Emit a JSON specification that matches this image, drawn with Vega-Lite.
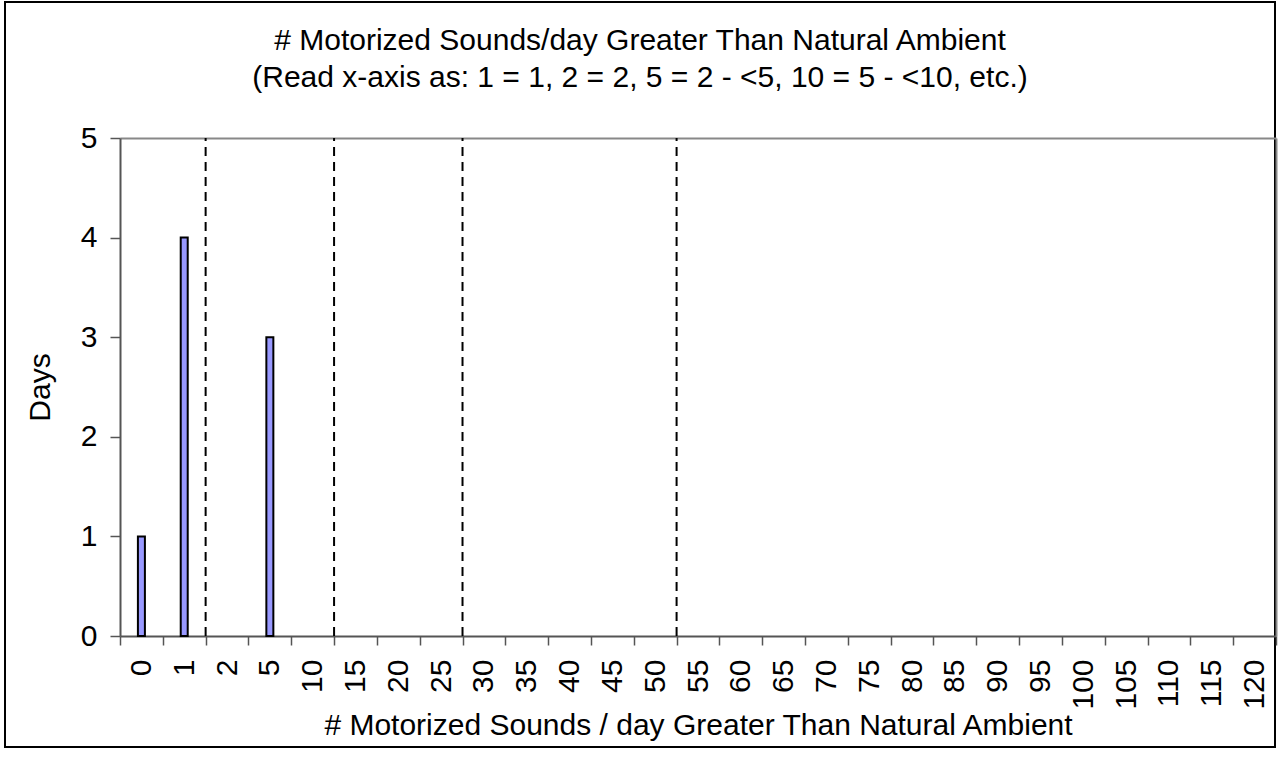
{
  "$schema": "https://vega.github.io/schema/vega-lite/v6.json",
  "autosize": "none",
  "width": 1270,
  "height": 745,
  "padding": {"left": 5, "top": 2, "right": 10, "bottom": 10},
  "background": "white",
  "config": {
    "view": {"stroke": "black", "strokeWidth": 2},
    "font": "Liberation Sans"
  },
  "title": {
    "text": ["# Motorized Sounds/day Greater Than Natural Ambient", "(Read x-axis as: 1 = 1, 2 = 2, 5 = 2 - <5, 10 = 5 - <10, etc.)"],
    "fontSize": 30,
    "fontWeight": "normal",
    "font": "Liberation Sans",
    "color": "black",
    "anchor": "middle",
    "frame": "group",
    "offset": -91,
    "lineHeight": 37
  },
  "datasets": {
    "bars": [
      {"cat": "0", "days": 1}, {"cat": "1", "days": 4}, {"cat": "2", "days": 0}, {"cat": "5", "days": 3},
      {"cat": "10", "days": 0}, {"cat": "15", "days": 0}, {"cat": "20", "days": 0}, {"cat": "25", "days": 0},
      {"cat": "30", "days": 0}, {"cat": "35", "days": 0}, {"cat": "40", "days": 0}, {"cat": "45", "days": 0},
      {"cat": "50", "days": 0}, {"cat": "55", "days": 0}, {"cat": "60", "days": 0}, {"cat": "65", "days": 0},
      {"cat": "70", "days": 0}, {"cat": "75", "days": 0}, {"cat": "80", "days": 0}, {"cat": "85", "days": 0},
      {"cat": "90", "days": 0}, {"cat": "95", "days": 0}, {"cat": "100", "days": 0}, {"cat": "105", "days": 0},
      {"cat": "110", "days": 0}, {"cat": "115", "days": 0}, {"cat": "120", "days": 0}
    ],
    "dividers": [
      {"cat": "2"}, {"cat": "15"}, {"cat": "30"}, {"cat": "55"}
    ]
  },
  "layer": [
    {
      "data": {"name": "bars"},
      "mark": {"type": "bar", "width": 7, "fill": "#9999FF", "stroke": "black", "strokeWidth": 2},
      "encoding": {
        "x": {
          "field": "cat", "type": "nominal",
          "scale": {
            "domain": ["0","1","2","5","10","15","20","25","30","35","40","45","50","55","60","65","70","75","80","85","90","95","100","105","110","115","120"],
            "range": [115, 1271], "paddingInner": 0, "paddingOuter": 0
          },
          "axis": {
            "orient": "bottom", "offset": -111, "title": "# Motorized Sounds / day Greater Than Natural Ambient",
            "titleFontSize": 30, "titleFontWeight": "normal", "titleColor": "black", "titleY": 89, "titleBaseline": "middle",
            "labelAngle": -90, "labelFontSize": 30, "labelColor": "black", "labelPadding": 14, "labelOverlap": false,
            "tickSize": 9, "tickColor": "#555555", "tickWidth": 1.5, "domainColor": "#555555", "domainWidth": 2, "tickBand": "extent", "grid": false
          }
        },
        "y": {
          "field": "days", "type": "quantitative",
          "scale": {"domain": [0, 5], "range": [634, 136], "nice": false, "zero": true},
          "axis": {
            "orient": "left", "offset": -115, "values": [0, 1, 2, 3, 4, 5], "title": "Days",
            "titleFontSize": 30, "titleFontWeight": "normal", "titleColor": "black", "titleX": -80, "titleY": 385, "titleBaseline": "middle",
            "labelFontSize": 30, "labelColor": "black", "labelPadding": 13, "tickSize": 10, "tickColor": "#555555", "tickWidth": 1.5,
            "domainColor": "#555555", "domainWidth": 2, "grid": false
          }
        },
        "strokeOpacity": {"condition": {"test": "datum.days > 0", "value": 1}, "value": 0}
      }
    },
    {
      "data": {"name": "dividers"},
      "mark": {"type": "rule", "color": "black", "strokeWidth": 2, "strokeDash": [9, 6]},
      "encoding": {
        "x": {
          "field": "cat", "type": "nominal", "bandPosition": 0,
          "axis": {"orient": "top", "offset": -136, "title": null, "labels": false, "ticks": false, "domainColor": "#888888", "domainWidth": 2, "grid": false}
        },
        "y": {
          "datum": 0, "type": "quantitative",
          "axis": {"orient": "right", "offset": 1, "title": null, "labels": false, "ticks": false, "domainColor": "#888888", "domainWidth": 2, "grid": false}
        },
        "y2": {"datum": 5}
      }
    }
  ],
  "resolve": {"axis": {"x": "independent", "y": "independent"}}
}
